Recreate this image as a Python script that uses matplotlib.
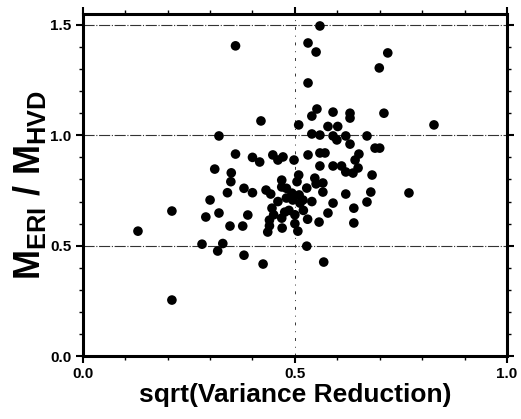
import matplotlib
matplotlib.use("Agg")
import matplotlib.pyplot as plt
from matplotlib.ticker import MultipleLocator

plt.rcParams['font.family'] = ['Liberation Sans', 'DejaVu Sans']
plt.rcParams['mathtext.fontset'] = 'custom'
plt.rcParams['mathtext.rm'] = 'Liberation Sans:bold'
plt.rcParams['mathtext.it'] = 'Liberation Sans:bold'
plt.rcParams['mathtext.bf'] = 'Liberation Sans:bold'

sqrt_vr = [
    0.13, 0.21, 0.21, 0.281, 0.29, 0.30, 0.311, 0.321, 0.321, 0.33,
    0.318, 0.341, 0.347, 0.349, 0.35, 0.36, 0.36, 0.377, 0.38, 0.38,
    0.389, 0.40, 0.40, 0.417, 0.42, 0.425, 0.432, 0.436, 0.44, 0.443,
    0.446, 0.448, 0.46, 0.469, 0.469, 0.469, 0.472, 0.476, 0.48, 0.486,
    0.493, 0.495, 0.498, 0.505, 0.507, 0.509, 0.509, 0.512, 0.519, 0.528,
    0.528, 0.531, 0.531, 0.531, 0.54, 0.54, 0.547, 0.55, 0.552, 0.557,
    0.559, 0.559, 0.559, 0.559, 0.566, 0.566, 0.568, 0.571, 0.578, 0.578,
    0.59, 0.59, 0.59, 0.59, 0.599, 0.601, 0.61, 0.62, 0.62, 0.62,
    0.63, 0.63, 0.63, 0.637, 0.639, 0.639, 0.642, 0.649, 0.651, 0.67,
    0.67, 0.679, 0.682, 0.689, 0.70, 0.699, 0.71, 0.719, 0.769, 0.828,
    0.44, 0.45, 0.46, 0.47, 0.50, 0.50, 0.48, 0.52, 0.53, 0.51,
    0.54, 0.55,
]
m_ratio = [
    0.566, 0.254, 0.657, 0.507, 0.63, 0.707, 0.847, 0.648, 0.997, 0.51,
    0.476, 0.74, 0.589, 0.79, 0.83, 0.915, 1.405, 0.589, 0.457, 0.76,
    0.639, 0.90, 0.74, 0.879, 1.065, 0.417, 0.752, 0.562, 0.616, 0.734,
    0.67, 0.911, 0.888, 0.797, 0.766, 0.625, 0.902, 0.652, 0.716, 0.66,
    0.738, 0.707, 0.888, 0.79, 0.566, 1.047, 0.82, 0.693, 0.707, 0.498,
    0.761, 0.911, 1.237, 1.418, 1.087, 1.006, 0.806, 1.377, 1.119, 0.607,
    1.495, 1.001, 0.92, 0.861, 0.784, 0.743, 0.426, 0.92, 1.04, 0.648,
    1.105, 0.997, 0.861, 0.693, 0.979, 1.04, 0.861, 0.997, 0.834, 0.734,
    1.10, 1.078, 0.96, 0.829, 0.67, 0.603, 0.888, 0.852, 0.915, 0.997,
    0.698, 0.743, 0.82, 0.942, 0.942, 1.305, 1.10, 1.373, 0.739, 1.047,
    0.59, 0.64, 0.70, 0.58, 0.60, 0.64, 0.76, 0.66, 0.62, 0.73,
    0.70, 0.78,
]

x_ticks = [0.0, 0.5, 1.0]
x_tick_labels = ["0.0", "0.5", "1.0"]
y_ticks = [0.0, 0.5, 1.0, 1.5]
y_tick_labels = ["0.0", "0.5", "1.0", "1.5"]

fig = plt.figure(figsize=(5.21, 4.19), dpi=100)
ax = fig.add_axes([0.159, 0.150, 0.814, 0.817])

for yv in [0.5, 1.0, 1.5]:
    ax.axhline(yv, color='#333333', lw=0.8, ls=(0, (10, 1.5, 1, 1.5)), zorder=1)
ax.axvline(0.5, color='#333333', lw=0.7, ls=(0, (3, 6, 1, 6)), zorder=1)

ax.scatter(sqrt_vr, m_ratio, s=48, color='black', edgecolors='none', zorder=3)

ax.set_xlim(0, 1.0)
ax.set_ylim(0, 1.55)
ax.set_xticks(x_ticks)
ax.set_xticklabels(x_tick_labels, fontweight='bold', fontsize=11)
ax.set_yticks(y_ticks)
ax.set_yticklabels(y_tick_labels, fontweight='bold', fontsize=11)
ax.xaxis.set_minor_locator(MultipleLocator(0.1))
ax.yaxis.set_minor_locator(MultipleLocator(0.1))
ax.tick_params(which='major', direction='out', length=5, width=1.5,
               top=True, right=True, pad=3)
ax.tick_params(which='minor', direction='out', length=3, width=1.0,
               top=True, right=True)
for sp in ax.spines.values():
    sp.set_linewidth(2.2)

ax.set_xlabel("sqrt(Variance Reduction)", fontsize=19, fontweight='bold', labelpad=1)
ax.set_ylabel(r"$\mathrm{M_{ERI}\ /\ M_{HVD}}$", fontsize=26)
ax.yaxis.set_label_coords(-0.082, 0.5)

fig.savefig("out.png", dpi=100)
